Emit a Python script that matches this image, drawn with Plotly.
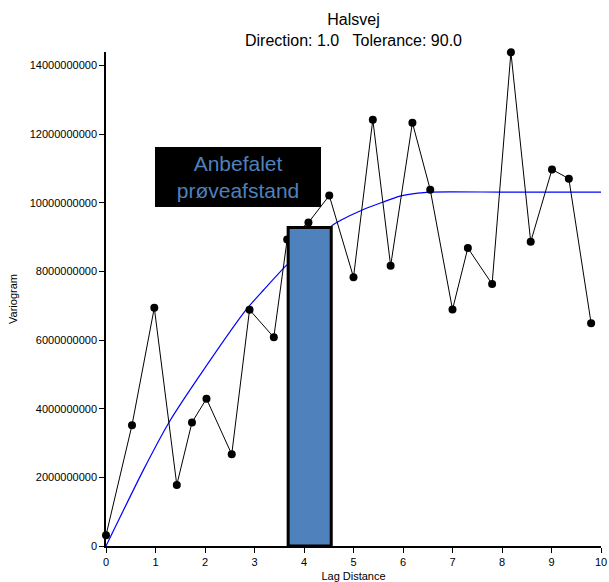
import plotly.graph_objects as go

# Experimental variogram (lag distance, variogram value)
lag = [0.0, 0.525, 0.976, 1.43, 1.737, 2.03, 2.54, 2.90, 3.39, 3.66, 4.09, 4.51,
       5.00, 5.39, 5.75, 6.19, 6.55, 7.00, 7.31, 7.80, 8.18, 8.58, 9.01, 9.35, 9.80]
gamma = [0.31e9, 3.52e9, 6.94e9, 1.78e9, 3.60e9, 4.29e9, 2.67e9, 6.88e9, 6.08e9, 8.93e9,
         9.42e9, 10.21e9, 7.83e9, 12.42e9, 8.16e9, 12.33e9, 10.38e9, 6.89e9, 8.68e9,
         7.63e9, 14.38e9, 8.86e9, 10.97e9, 10.70e9, 6.49e9]

# Fitted model curve
model_lag = [0.0, 0.754, 1.26, 1.83, 2.84, 3.18, 3.65, 4.59, 5.20, 5.60, 5.94, 6.30, 6.55, 8.0, 10.0]
model_gamma = [0.0, 2.21e9, 3.57e9, 4.83e9, 6.90e9, 7.45e9, 8.18e9, 9.36e9, 9.80e9, 10.02e9,
               10.19e9, 10.28e9, 10.31e9, 10.31e9, 10.31e9]

# Recommended sample spacing bar
bar_left = 3.68
bar_right = 4.55
bar_height = 9.28e9

label_text = "Anbefalet<br>prøveafstand"
title_text = "Halsvej<br>Direction: 1.0\u00a0\u00a0\u00a0Tolerance: 90.0"

x_ticks = list(range(0, 11))
y_ticks = [0, 2e9, 4e9, 6e9, 8e9, 10e9, 12e9, 14e9]
y_max = 14.39e9

FONT = "Liberation Sans, Arial, sans-serif"
BAR_COLOR = "#4F81BD"

fig = go.Figure()

fig.add_trace(go.Scatter(
    x=model_lag, y=model_gamma, mode="lines",
    line=dict(color="#0000ff", width=1.2, shape="spline", smoothing=0.6),
    cliponaxis=False, hoverinfo="skip", showlegend=False,
))

fig.add_trace(go.Scatter(
    x=lag, y=gamma, mode="lines+markers",
    line=dict(color="black", width=1),
    marker=dict(color="black", size=8),
    cliponaxis=False, showlegend=False,
))

fig.add_trace(go.Scatter(
    x=[bar_left, bar_left, bar_right, bar_right, bar_left],
    y=[0, bar_height, bar_height, 0, 0],
    mode="lines", fill="toself", fillcolor=BAR_COLOR,
    line=dict(color="black", width=3),
    cliponaxis=False, showlegend=False, hoverinfo="skip",
))

fig.add_annotation(
    x=2.67, y=10.74e9, xref="x", yref="y",
    text=label_text, showarrow=False,
    font=dict(family=FONT, size=21, color=BAR_COLOR),
    bgcolor="black", width=166, height=60, borderpad=0, borderwidth=0,
    align="center", valign="middle",
)

fig.update_layout(
    template="none",
    width=609, height=582,
    margin=dict(l=106, r=8, t=52, b=36, autoexpand=False),
    paper_bgcolor="white", plot_bgcolor="white",
    font=dict(family=FONT, size=11, color="black"),
    title=dict(text=title_text, x=0.5, xref="paper", y=1 - 25 / 582, yref="container",
               xanchor="center", yanchor="top",
               font=dict(family=FONT, size=16, color="black")),
    showlegend=False,
)

fig.update_xaxes(
    range=[0, 10], tickvals=x_ticks, ticktext=[str(v) for v in x_ticks],
    showgrid=False, zeroline=False, showline=True, linecolor="black", linewidth=1.5,
    ticks="outside", ticklen=5, tickcolor="black", tickwidth=1, automargin=False,
    tickfont=dict(family=FONT, size=11, color="black"),
    title=dict(text="Lag Distance", standoff=7, font=dict(family=FONT, size=11)),
)
fig.update_yaxes(
    range=[0, y_max], tickvals=y_ticks, ticktext=[str(int(v)) for v in y_ticks],
    showgrid=False, zeroline=False, showline=True, linecolor="black", linewidth=1.5,
    ticks="outside", ticklen=5, tickcolor="black", tickwidth=1, automargin=False,
    tickfont=dict(family=FONT, size=11, color="black"),
    title=dict(text="Variogram", standoff=10, font=dict(family=FONT, size=11)),
)

fig.write_html("out.html")
